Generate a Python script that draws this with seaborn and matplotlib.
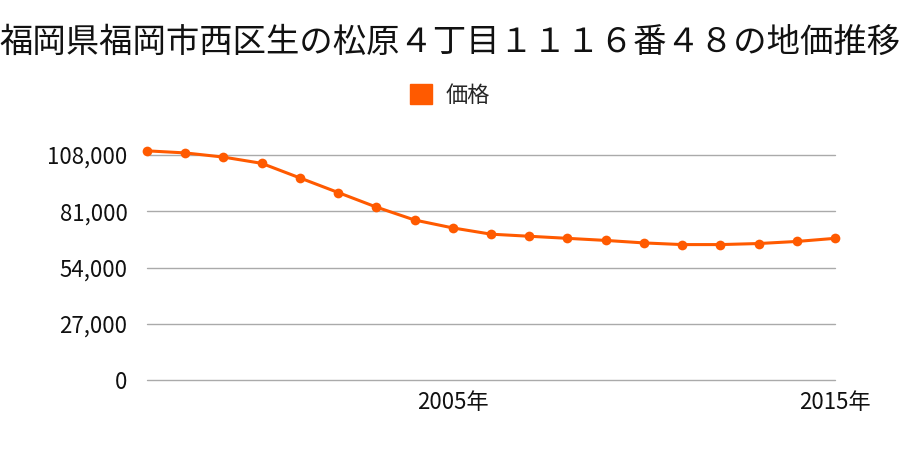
import matplotlib
matplotlib.use("Agg")
import matplotlib.pyplot as plt
import seaborn as sns
import pandas as pd
from matplotlib.patches import Patch

years = list(range(1997, 2016))
prices = [110000, 109000, 107000, 104000, 97000, 90000, 83000, 76800, 73000, 70000,
          69000, 68000, 67000, 65800, 65000, 65000, 65500, 66500, 68000]
yticks = [0, 27000, 54000, 81000, 108000]
xtick_years = [2005, 2015]
title = "福岡県福岡市西区生の松原４丁目１１１６番４８の地価推移"
series_name = "価格"

df = pd.DataFrame({"year": years, "price": prices})

sns.set_theme(style="white")
plt.rcParams['font.family'] = ['Noto Sans CJK JP', 'DejaVu Sans']

fig = plt.figure(figsize=(9, 4.5), dpi=100)
ax = fig.add_axes([147/900, 1-380/450, (835-147)/900, (380-130)/450])
color = "#ff5a00"
sns.lineplot(data=df, x="year", y="price", ax=ax, color=color, linewidth=2.2,
             marker="o", markersize=7, markeredgewidth=0, clip_on=False, zorder=3)
ax.set_xlim(1997, 2015)
ax.set_ylim(0, 120000)
ax.set_yticks(yticks)
ax.set_yticklabels([f"{v:,}" for v in yticks], fontsize=16)
ax.set_xticks(xtick_years)
ax.set_xticklabels([f"{y}年" for y in xtick_years], fontsize=16)
ax.tick_params(axis="both", length=0, colors="#111111")
ax.tick_params(axis="y", pad=14)
ax.tick_params(axis="x", pad=8)
ax.yaxis.grid(True, color="#aaaaaa", linewidth=1)
for gl in ax.yaxis.get_gridlines():
    gl.set_clip_on(False)
ax.xaxis.grid(False)
for s in ax.spines.values():
    s.set_visible(False)
ax.set_xlabel("")
ax.set_ylabel("")
if ax.get_legend():
    ax.get_legend().remove()

fig.text(0.5, 1-42/450, title, ha="center", va="center", fontsize=24, color="#111111")
fig.legend(handles=[Patch(color=color, label=series_name)], loc="center",
           bbox_to_anchor=(0.5, 1-95/450), frameon=False, fontsize=16,
           handlelength=1.0, handleheight=1.0, handletextpad=0.6)
fig.savefig("out.png", dpi=100)
